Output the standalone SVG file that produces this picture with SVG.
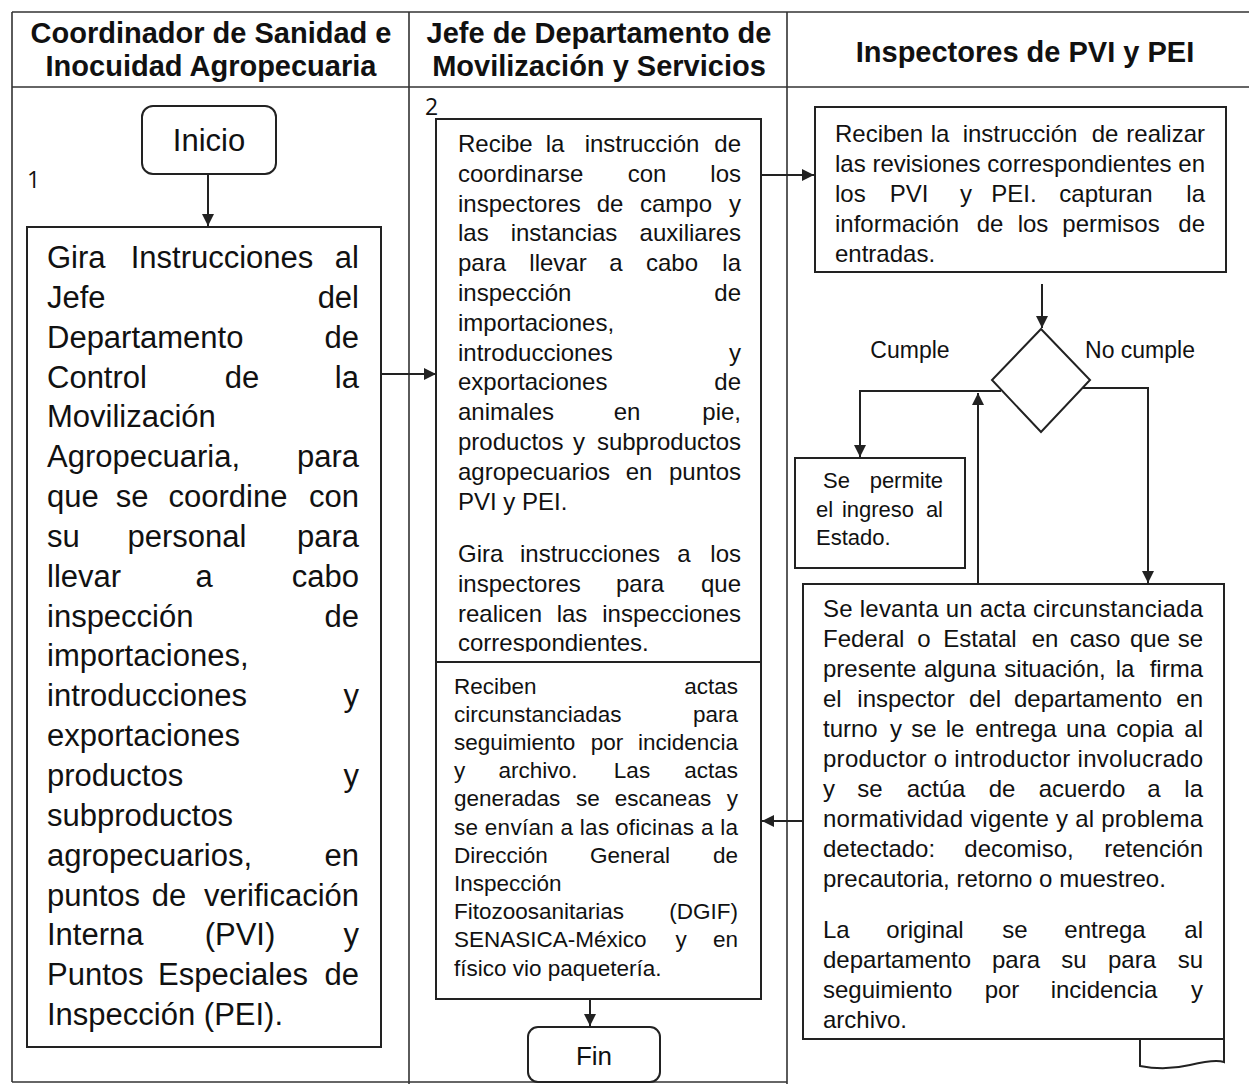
<svg xmlns="http://www.w3.org/2000/svg" width="1249" height="1084" viewBox="0 0 1249 1084">
<style>
.t{font-family:"Liberation Sans",Arial,sans-serif;fill:#111}
.h{font-weight:bold;font-size:29px;text-anchor:middle}
.L{font-size:31px}
.M{font-size:24px}
.N{font-size:22.5px}
.R{font-size:24px}
.s{font-size:22px}
.c{font-size:23px}
.num{font-family:"Open Sans","Liberation Sans",sans-serif;font-size:23px;fill:#111}
.m{text-anchor:middle}
.e{text-anchor:end}
.bx{fill:#fff;stroke:#222;stroke-width:2}
.fr{stroke:#333;stroke-width:1.6;fill:none}
.cn{stroke:#222;stroke-width:2;fill:none;marker-end:url(#ah)}
</style>
<defs>
<marker id="ah" viewBox="0 0 10 10" refX="10" refY="5" markerWidth="14" markerHeight="12" markerUnits="userSpaceOnUse" orient="auto">
<path d="M0,0 L10,5 L0,10 z" fill="#222"/>
</marker>
<clipPath id="clipTop"><rect x="436" y="119" width="325" height="533"/></clipPath>
</defs>
<rect width="1249" height="1084" fill="#fff"/>

<g id="frame">
<line class="fr" x1="12" y1="12" x2="1249" y2="12"/>
<line class="fr" x1="12" y1="87" x2="1249" y2="87"/>
<line class="fr" x1="12" y1="12" x2="12" y2="1082"/>
<line class="fr" x1="409" y1="12" x2="409" y2="1084"/>
<line class="fr" x1="787" y1="12" x2="787" y2="1084"/>
<line class="fr" x1="12" y1="1082" x2="787" y2="1082"/>
</g>

<g id="headers">
<text class="t h" x="211" y="43">Coordinador de Sanidad e</text>
<text class="t h" x="211" y="76">Inocuidad Agropecuaria</text>
<text class="t h" x="599" y="43">Jefe de Departamento de</text>
<text class="t h" x="599" y="76">Movilización y Servicios</text>
<text class="t h" x="1025" y="62">Inspectores de PVI y PEI</text>
</g>

<g id="connectors">
<path class="cn" d="M208,174 V226"/>
<path class="cn" d="M381,374 H436"/>
<path class="cn" d="M761,175 H814"/>
<path class="cn" d="M1042,284 V328"/>
<path class="cn" d="M1001,391 H860 V457"/>
<path class="cn" d="M1082,388 H1148 V583"/>
<path class="cn" d="M978,584 V393"/>
<path class="cn" d="M803,821 H762"/>
<path class="cn" d="M590,999 V1026"/>
</g>

<g id="n-inicio">
<rect class="bx" x="142" y="106" width="134" height="68" rx="11"/>
<text class="t L m" x="209" y="151">Inicio</text>
<text class="num" x="27" y="188">1</text>
</g>

<g id="n-gira">
<rect class="bx" x="27" y="227" width="354" height="820"/>
<text class="t L"><tspan
 x="47" y="268">Gira</tspan><tspan class="m" x="222" y="268">Instrucciones</tspan><tspan class="e" x="359" y="268">al</tspan><tspan
 x="47" y="308">Jefe</tspan><tspan class="e" x="359" y="308">del</tspan><tspan
 x="47" y="348">Departamento</tspan><tspan class="e" x="359" y="348">de</tspan><tspan
 x="47" y="388">Control</tspan><tspan class="m" x="242" y="388">de</tspan><tspan class="e" x="359" y="388">la</tspan><tspan
 x="47" y="427">Movilización</tspan><tspan
 x="47" y="467">Agropecuaria,</tspan><tspan class="e" x="359" y="467">para</tspan><tspan
 x="47" y="507">que</tspan><tspan class="m" x="132" y="507">se</tspan><tspan class="m" x="228" y="507">coordine</tspan><tspan class="e" x="359" y="507">con</tspan><tspan
 x="47" y="547">su</tspan><tspan class="m" x="187" y="547">personal</tspan><tspan class="e" x="359" y="547">para</tspan><tspan
 x="47" y="587">llevar</tspan><tspan class="m" x="204" y="587">a</tspan><tspan class="e" x="359" y="587">cabo</tspan><tspan
 x="47" y="627">inspección</tspan><tspan class="e" x="359" y="627">de</tspan><tspan
 x="47" y="666">importaciones,</tspan><tspan
 x="47" y="706">introducciones</tspan><tspan class="e" x="359" y="706">y</tspan><tspan
 x="47" y="746">exportaciones</tspan><tspan
 x="47" y="786">productos</tspan><tspan class="e" x="359" y="786">y</tspan><tspan
 x="47" y="826">subproductos</tspan><tspan
 x="47" y="866">agropecuarios,</tspan><tspan class="e" x="359" y="866">en</tspan><tspan
 x="47" y="906">puntos</tspan><tspan class="m" x="169" y="906">de</tspan><tspan class="e" x="359" y="906">verificación</tspan><tspan
 x="47" y="945">Interna</tspan><tspan class="m" x="240" y="945">(PVI)</tspan><tspan class="e" x="359" y="945">y</tspan><tspan
 x="47" y="985">Puntos</tspan><tspan class="m" x="233" y="985">Especiales</tspan><tspan class="e" x="359" y="985">de</tspan><tspan
 x="47" y="1025">Inspección (PEI).</tspan></text>
</g>

<g id="n-recibe">
<rect class="bx" x="436" y="119" width="325" height="543"/>
<text class="num" x="425" y="115">2</text>
<text class="t M" clip-path="url(#clipTop)"><tspan
 x="458" y="152">Recibe</tspan><tspan class="m" x="555" y="152">la</tspan><tspan class="m" x="642" y="152">instrucción</tspan><tspan class="e" x="741" y="152">de</tspan><tspan
 x="458" y="182">coordinarse</tspan><tspan class="m" x="647" y="182">con</tspan><tspan class="e" x="741" y="182">los</tspan><tspan
 x="458" y="212">inspectores</tspan><tspan class="m" x="610" y="212">de</tspan><tspan class="m" x="676" y="212">campo</tspan><tspan class="e" x="741" y="212">y</tspan><tspan
 x="458" y="241">las</tspan><tspan class="m" x="564" y="241">instancias</tspan><tspan class="e" x="741" y="241">auxiliares</tspan><tspan
 x="458" y="271">para</tspan><tspan class="m" x="558" y="271">llevar</tspan><tspan class="m" x="616" y="271">a</tspan><tspan class="m" x="672" y="271">cabo</tspan><tspan class="e" x="741" y="271">la</tspan><tspan
 x="458" y="301">inspección</tspan><tspan class="e" x="741" y="301">de</tspan><tspan
 x="458" y="331">importaciones,</tspan><tspan
 x="458" y="361">introducciones</tspan><tspan class="e" x="741" y="361">y</tspan><tspan
 x="458" y="390">exportaciones</tspan><tspan class="e" x="741" y="390">de</tspan><tspan
 x="458" y="420">animales</tspan><tspan class="m" x="627" y="420">en</tspan><tspan class="e" x="741" y="420">pie,</tspan><tspan
 x="458" y="450">productos</tspan><tspan class="m" x="579" y="450">y</tspan><tspan class="e" x="741" y="450">subproductos</tspan><tspan
 x="458" y="480">agropecuarios</tspan><tspan class="m" x="639" y="480">en</tspan><tspan class="e" x="741" y="480">puntos</tspan><tspan
 x="458" y="510">PVI y PEI.</tspan><tspan
 x="458" y="562">Gira</tspan><tspan class="m" x="590" y="562">instrucciones</tspan><tspan class="m" x="684" y="562">a</tspan><tspan class="e" x="741" y="562">los</tspan><tspan
 x="458" y="592">inspectores</tspan><tspan class="m" x="640" y="592">para</tspan><tspan class="e" x="741" y="592">que</tspan><tspan
 x="458" y="622">realicen</tspan><tspan class="m" x="572" y="622">las</tspan><tspan class="e" x="741" y="622">inspecciones</tspan><tspan
 x="458" y="651">correspondientes.</tspan></text>
</g>

<g id="n-actas">
<rect class="bx" x="436" y="662" width="325" height="337"/>
<text class="t N"><tspan
 x="454" y="694">Reciben</tspan><tspan class="e" x="738" y="694">actas</tspan><tspan
 x="454" y="722">circunstanciadas</tspan><tspan class="e" x="738" y="722">para</tspan><tspan
 x="454" y="750">seguimiento</tspan><tspan class="m" x="607" y="750">por</tspan><tspan class="e" x="738" y="750">incidencia</tspan><tspan
 x="454" y="778">y</tspan><tspan class="m" x="538" y="778">archivo.</tspan><tspan class="m" x="632" y="778">Las</tspan><tspan class="e" x="738" y="778">actas</tspan><tspan
 x="454" y="806">generadas</tspan><tspan class="m" x="588" y="806">se</tspan><tspan class="m" x="663" y="806">escaneas</tspan><tspan class="e" x="738" y="806">y</tspan><tspan
 x="454" y="835" textLength="284" lengthAdjust="spacing">se envían a las oficinas a la</tspan><tspan
 x="454" y="863">Dirección</tspan><tspan class="m" x="630" y="863">General</tspan><tspan class="e" x="738" y="863">de</tspan><tspan
 x="454" y="891">Inspección</tspan><tspan
 x="454" y="919">Fitozoosanitarias</tspan><tspan class="e" x="738" y="919">(DGIF)</tspan><tspan
 x="454" y="947">SENASICA-México</tspan><tspan class="m" x="681" y="947">y</tspan><tspan class="e" x="738" y="947">en</tspan><tspan
 x="454" y="976">físico vio paquetería.</tspan></text>
</g>

<g id="n-fin">
<rect class="bx" x="528" y="1027" width="132" height="55" rx="10"/>
<text class="t m" x="594" y="1065" font-size="26">Fin</text>
</g>

<g id="n-revisiones">
<rect class="bx" x="815" y="107" width="411" height="165"/>
<text class="t R"><tspan
 x="835" y="142">Reciben</tspan><tspan class="m" x="940" y="142">la</tspan><tspan class="m" x="1020" y="142">instrucción</tspan><tspan class="m" x="1105" y="142">de</tspan><tspan class="e" x="1205" y="142">realizar</tspan><tspan
 x="835" y="172" textLength="370" lengthAdjust="spacing">las revisiones correspondientes en</tspan><tspan
 x="835" y="202">los</tspan><tspan class="m" x="909" y="202">PVI</tspan><tspan class="m" x="966" y="202">y</tspan><tspan class="m" x="1014" y="202">PEI.</tspan><tspan class="m" x="1106" y="202">capturan</tspan><tspan class="e" x="1205" y="202">la</tspan><tspan
 x="835" y="232">información</tspan><tspan class="m" x="990" y="232">de</tspan><tspan class="m" x="1033" y="232">los</tspan><tspan class="m" x="1111" y="232">permisos</tspan><tspan class="e" x="1205" y="232">de</tspan><tspan
 x="835" y="262">entradas.</tspan></text>
</g>

<g id="n-decision">
<polygon class="bx" points="1041,329 1090,380 1041,432 992,380"/>
<text class="t c m" x="910" y="358">Cumple</text>
<text class="t c m" x="1140" y="358">No cumple</text>
</g>

<g id="n-permite">
<rect class="bx" x="795" y="458" width="170" height="110"/>
<text class="t s"><tspan
 x="823" y="488">Se</tspan><tspan class="e" x="943" y="488">permite</tspan><tspan
 x="816" y="517">el</tspan><tspan class="m" x="878" y="517">ingreso</tspan><tspan class="e" x="943" y="517">al</tspan><tspan
 x="816" y="545">Estado.</tspan></text>
</g>

<g id="n-acta">
<path class="bx" d="M1140,1039 V1066 Q1165,1071 1190,1065 T1224,1062 V1039 Z"/>
<rect class="bx" x="803" y="584" width="421" height="455"/>
<text class="t R"><tspan
 x="823" y="617" textLength="380" lengthAdjust="spacing">Se levanta un acta circunstanciada</tspan><tspan
 x="823" y="647">Federal</tspan><tspan class="m" x="924" y="647">o</tspan><tspan class="m" x="980" y="647">Estatal</tspan><tspan class="m" x="1045" y="647">en</tspan><tspan class="m" x="1095" y="647">caso</tspan><tspan class="m" x="1150" y="647">que</tspan><tspan class="e" x="1203" y="647">se</tspan><tspan
 x="823" y="677">presente</tspan><tspan class="m" x="960" y="677">alguna</tspan><tspan class="m" x="1055" y="677">situación,</tspan><tspan class="m" x="1125" y="677">la</tspan><tspan class="e" x="1203" y="677">firma</tspan><tspan
 x="823" y="707">el</tspan><tspan class="m" x="906" y="707">inspector</tspan><tspan class="m" x="985" y="707">del</tspan><tspan class="m" x="1088" y="707">departamento</tspan><tspan class="e" x="1203" y="707">en</tspan><tspan
 x="823" y="737">turno</tspan><tspan class="m" x="896" y="737">y</tspan><tspan class="m" x="924" y="737">se</tspan><tspan class="m" x="955" y="737">le</tspan><tspan class="m" x="1016" y="737">entrega</tspan><tspan class="m" x="1086" y="737">una</tspan><tspan class="m" x="1145" y="737">copia</tspan><tspan class="e" x="1203" y="737">al</tspan><tspan
 x="823" y="767" textLength="380" lengthAdjust="spacing">productor o introductor involucrado</tspan><tspan
 x="823" y="797">y</tspan><tspan class="m" x="870" y="797">se</tspan><tspan class="m" x="936" y="797">actúa</tspan><tspan class="m" x="1002" y="797">de</tspan><tspan class="m" x="1082" y="797">acuerdo</tspan><tspan class="m" x="1154" y="797">a</tspan><tspan class="e" x="1203" y="797">la</tspan><tspan
 x="823" y="827" textLength="380" lengthAdjust="spacing">normatividad vigente y al problema</tspan><tspan
 x="823" y="857">detectado:</tspan><tspan class="m" x="1019" y="857">decomiso,</tspan><tspan class="e" x="1203" y="857">retención</tspan><tspan
 x="823" y="887">precautoria, retorno o muestreo.</tspan><tspan
 x="823" y="938">La</tspan><tspan class="m" x="925" y="938">original</tspan><tspan class="m" x="1015" y="938">se</tspan><tspan class="m" x="1105" y="938">entrega</tspan><tspan class="e" x="1203" y="938">al</tspan><tspan
 x="823" y="968">departamento</tspan><tspan class="m" x="1016" y="968">para</tspan><tspan class="m" x="1074" y="968">su</tspan><tspan class="m" x="1132" y="968">para</tspan><tspan class="e" x="1203" y="968">su</tspan><tspan
 x="823" y="998">seguimiento</tspan><tspan class="m" x="1002" y="998">por</tspan><tspan class="m" x="1104" y="998">incidencia</tspan><tspan class="e" x="1203" y="998">y</tspan><tspan
 x="823" y="1028">archivo.</tspan></text>
</g>
</svg>
